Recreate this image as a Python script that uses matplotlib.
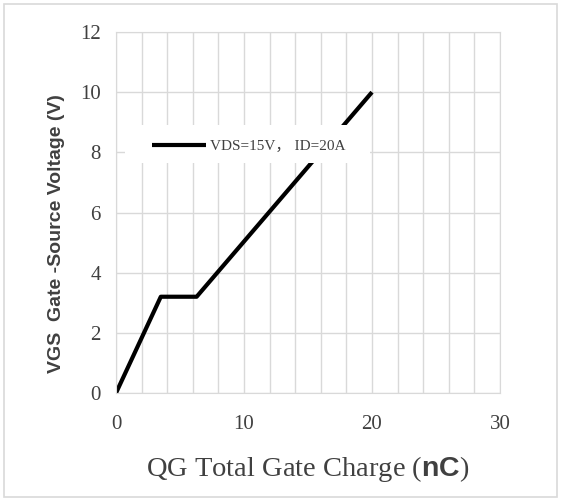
import matplotlib
matplotlib.use("Agg")
import matplotlib.pyplot as plt
from matplotlib.patches import Rectangle

qg = [0, 3.5, 6.3, 20]
vgs = [0, 3.2, 3.2, 10]
series_label = "VDS=15V， ID=20A"
xticks = [0, 10, 20, 30]
yticks = [0, 2, 4, 6, 8, 10, 12]

plt.rcParams["mathtext.fontset"] = "custom"
plt.rcParams["mathtext.bf"] = "Liberation Sans:bold"
plt.rcParams["mathtext.rm"] = "Liberation Serif"

W, H = 568, 501
fig = plt.figure(figsize=(W / 100, H / 100), dpi=100)
fig.patches.append(Rectangle((4 / W, 4 / H), (557 - 4) / W, (497 - 4) / H,
                             transform=fig.transFigure, fill=False,
                             edgecolor="#d9d9d9", linewidth=1.2))
ax = fig.add_axes([116 / W, (H - 393) / H, (500 - 116) / W, (393 - 32) / H])
ax.set_xlim(0, 30)
ax.set_ylim(0, 12)
ax.set_xticks(range(0, 31, 2), minor=True)
ax.set_xticks(xticks)
ax.set_yticks(yticks)
ax.grid(True, which="both", axis="x", color="#d9d9d9", linewidth=1)
ax.grid(True, which="major", axis="y", color="#d9d9d9", linewidth=1)
ax.tick_params(which="both", length=0, labelsize=15, colors="#404040")
ax.tick_params(axis="x", pad=16)
ax.tick_params(axis="y", pad=11)
for lab in ax.get_xticklabels() + ax.get_yticklabels():
    lab.set_family("Liberation Serif")
for s in ax.spines.values():
    s.set_color("#d9d9d9")
ax.plot(qg, vgs, color="black", linewidth=3, label=series_label, solid_capstyle="butt")
# legend background box
ax.add_patch(Rectangle((0.023, 0.637), 0.638, 0.105, transform=ax.transAxes,
                       facecolor="white", edgecolor="none", zorder=4))
leg = ax.legend(loc="center left", bbox_to_anchor=(0.094, 0.684), frameon=False,
                prop={"family": ["Liberation Serif", "Noto Sans CJK SC"], "size": 11},
                handlelength=3.5, handletextpad=0.3, borderpad=0, borderaxespad=0)
leg.set_zorder(5)
for t in leg.get_texts():
    t.set_color("#404040")
ax.set_xlabel(r"QG Total Gate Charge ($\mathbf{nC}$)", fontsize=20.5,
              family="Liberation Serif", color="#404040")
ax.xaxis.set_label_coords(0.5, -0.168)
ax.set_ylabel("VGS  Gate -Source Voltage (V)", fontsize=14, family="Liberation Sans",
              fontweight="bold", color="#404040")
ax.yaxis.set_label_coords(-0.132, 0.443)
fig.savefig("out.png", dpi=100)
